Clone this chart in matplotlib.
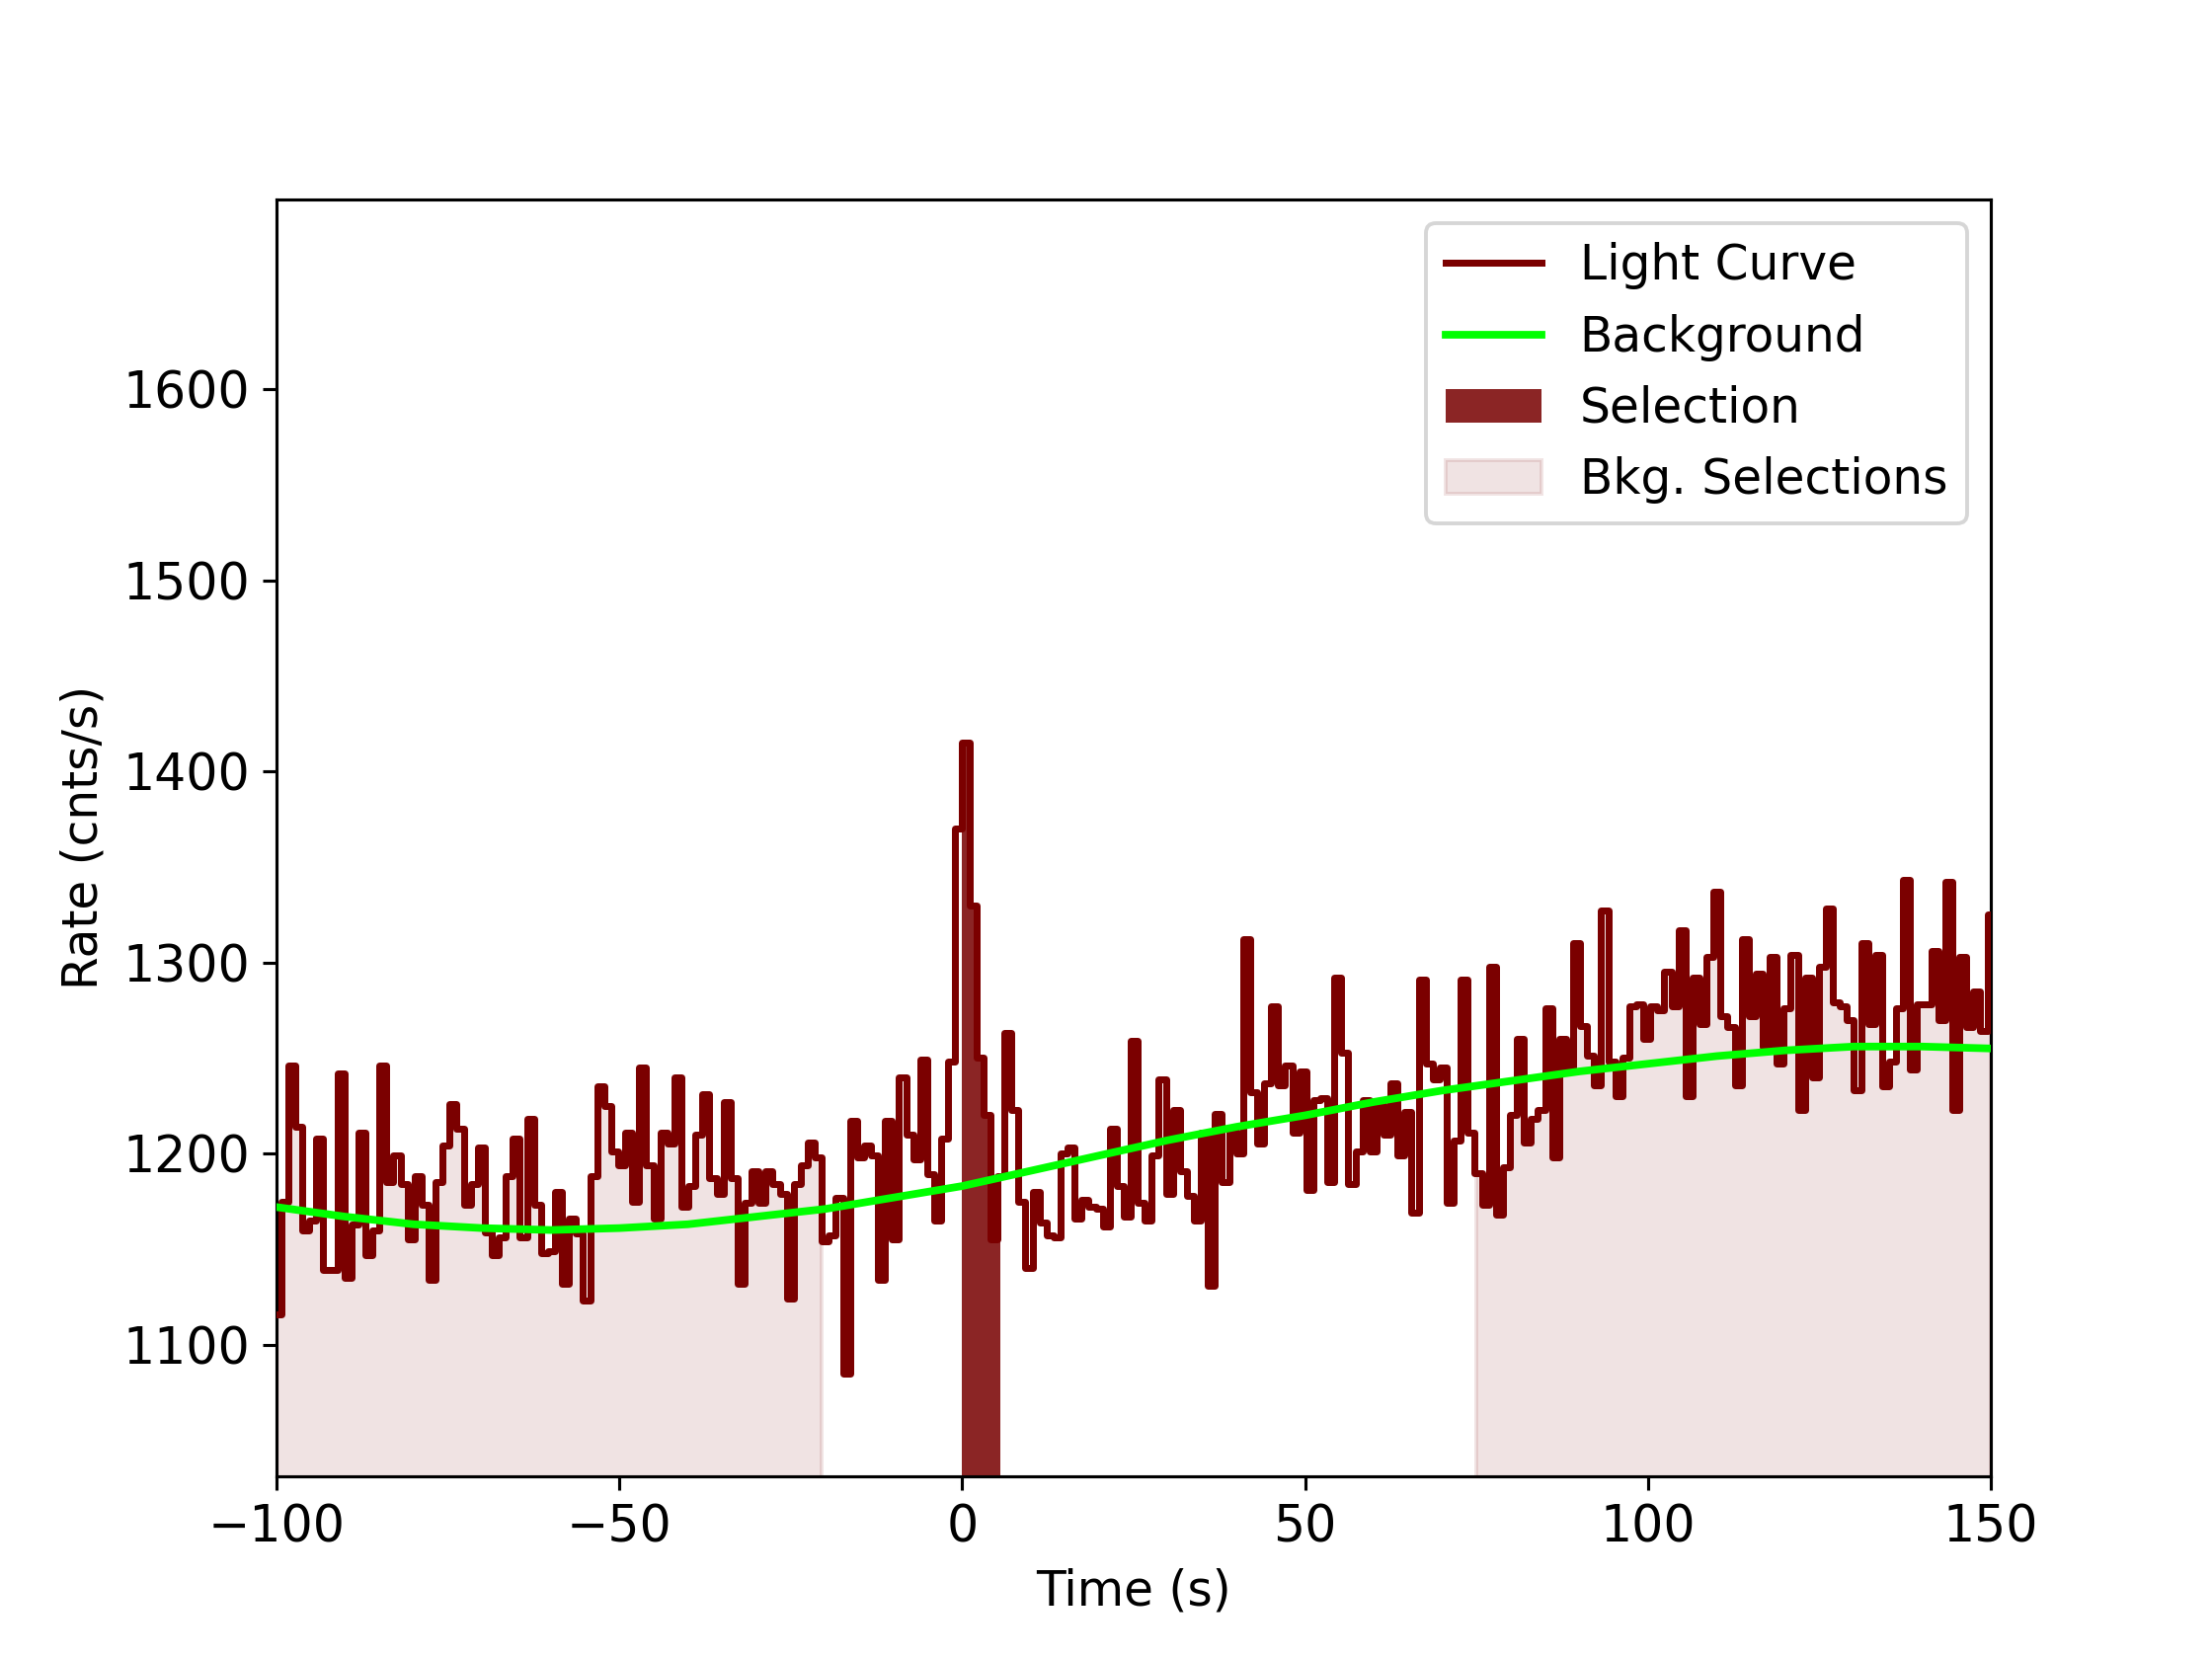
import numpy as np
import matplotlib
matplotlib.use("Agg")
import matplotlib.pyplot as plt

plt.rcParams["font.size"] = 12.5
plt.rcParams["xtick.labelsize"] = 13
plt.rcParams["ytick.labelsize"] = 13

# light curve rates (cnts/s), 1.024 s bins starting at -100.352 s
rates_pre = [1116, 1175, 1246, 1214, 1160, 1165, 1208, 1139, 1139, 1242, 1135, 1163, 1211, 1147,
             1160, 1246, 1185, 1199, 1184, 1155, 1188, 1173, 1134, 1185, 1204, 1226, 1213, 1173,
             1184, 1203, 1159, 1147, 1156, 1188, 1208, 1156, 1218, 1173, 1148, 1149, 1180, 1132,
             1166, 1158, 1123, 1188, 1235, 1225, 1201, 1194, 1211,
             1175, 1245, 1194, 1166, 1211, 1205, 1240, 1172, 1183, 1210, 1231, 1187, 1179, 1227,
             1187, 1132, 1174, 1191, 1174, 1191, 1184, 1179, 1124, 1184, 1194, 1206, 1198, 1154,
             1157, 1177, 1085, 1217, 1198, 1204, 1199, 1134, 1217, 1155, 1240, 1210, 1197, 1249,
             1189, 1165, 1208, 1248]
rates_burst = [1370, 1415, 1330, 1250, 1220, 1155]
rates_mid = [1188, 1263, 1223, 1175, 1140, 1180, 1164, 1157, 1156, 1200, 1203, 1166, 1176, 1172,
             1171, 1162, 1213, 1183, 1167, 1259, 1174, 1165, 1199, 1239, 1179, 1223, 1191, 1178,
             1165, 1211, 1131, 1221, 1185, 1212, 1200, 1312, 1232, 1205, 1237, 1277, 1236, 1246,
             1211, 1243, 1181, 1228]
rates_late = [1229, 1185, 1292, 1253, 1184, 1201, 1228, 1201, 1226, 1210, 1237, 1199, 1222, 1169,
              1291, 1247, 1239, 1245, 1174, 1207, 1291, 1211, 1190, 1173, 1298, 1168, 1193, 1220,
              1260, 1206, 1218, 1223, 1276, 1198, 1260, 1243, 1310, 1267, 1251, 1236, 1327, 1248,
              1230, 1250, 1277, 1278, 1260, 1277, 1275, 1295,
              1277, 1317, 1230, 1292, 1268, 1303, 1337, 1272, 1266, 1236, 1312, 1272, 1294, 1256,
              1303, 1247, 1276, 1304, 1223, 1292, 1240, 1298, 1328, 1279, 1277, 1270, 1233, 1310,
              1268, 1304, 1235, 1248, 1276, 1343, 1244, 1278, 1278, 1306, 1270, 1342, 1223, 1303,
              1266, 1285, 1264, 1325, 1224, 1224]

# background model sampled every 10 s
bkg_t = [-100, -90, -80, -70, -60, -50, -40, -30, -20, -10, 0, 10, 20, 30, 40, 50, 60, 70, 80,
         90, 100, 110, 120, 130, 140, 150]
bkg_r = [1172, 1167, 1163, 1161, 1160, 1161, 1163, 1167, 1171, 1177, 1183, 1191, 1199, 1207,
         1214, 1220, 1227, 1233, 1238, 1243, 1247, 1251, 1254, 1256, 1256, 1255]

src_sel = (0.0, 5.5)
bkg_sels = [(-100.0, -20.5), (75.0, 150.0)]
bin_width = 1.024
t_start = -100.352

rates = np.array(rates_pre + rates_burst + rates_mid + rates_late, dtype=float)
edges = t_start + bin_width * np.arange(len(rates) + 1)

fig, ax = plt.subplots(figsize=(8, 6), dpi=280)

ystep = np.append(rates, rates[-1])


def fill_range(t0, t1, **kw):
    m = (edges >= t0 - bin_width) & (edges <= t1 + bin_width)
    x = np.clip(edges[m], t0, t1)
    ax.fill_between(x, 0, ystep[m], step="post", **kw)


for i, (a, b) in enumerate(bkg_sels):
    fill_range(a, b, color="#8b1a1a", alpha=0.12, linewidth=1,
               label="Bkg. Selections" if i == 0 else None)
fill_range(src_sel[0], src_sel[1], color="#8b2525", linewidth=0, label="Selection")

ax.step(edges, ystep, where="post", color="#7b0000", lw=1.8, label="Light Curve", zorder=3)
ax.plot(bkg_t, bkg_r, color="#00ff00", lw=2, label="Background", zorder=4)

ax.set_xlim(-100, 150)
ax.set_ylim(1031, 1699.5)
ax.set_xlabel("Time (s)")
ax.set_ylabel("Rate (cnts/s)")

h, l = ax.get_legend_handles_labels()
order = [l.index(n) for n in ["Light Curve", "Background", "Selection", "Bkg. Selections"]]
ax.legend([h[i] for i in order], [l[i] for i in order], loc="upper right", fontsize=12.5)

plt.savefig("out.png", dpi=280)
